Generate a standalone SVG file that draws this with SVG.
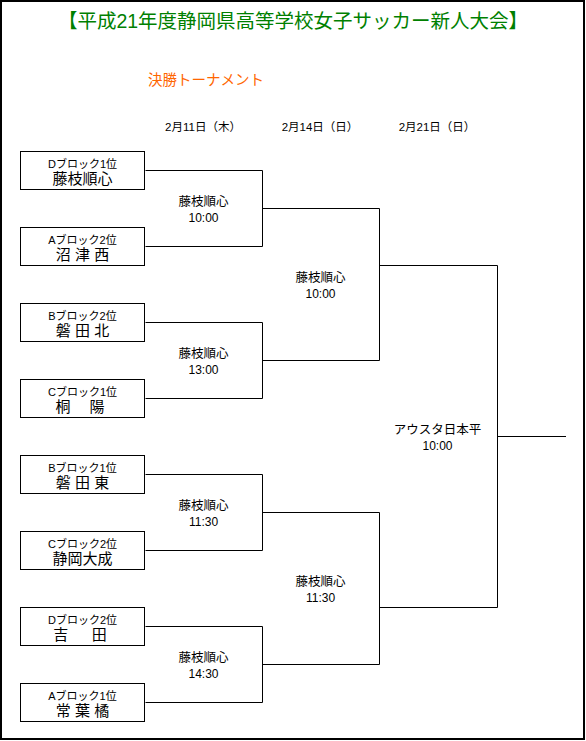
<svg xmlns="http://www.w3.org/2000/svg" width="586" height="741" viewBox="0 0 586 741">
<style>
text{font-family:"Liberation Sans","Noto Sans CJK JP",sans-serif;fill:#000;white-space:pre}
.title{font-size:19.5px;fill:#008000;text-anchor:middle}
.sub{font-size:14.5px;fill:#FF6600}
.date{font-size:11.5px;text-anchor:middle}
.lbl{font-size:11px;text-anchor:middle}
.name{font-size:15px;text-anchor:middle}
.ml{font-size:12.5px;text-anchor:middle}
.mt{font-size:12px;text-anchor:middle}
.box{fill:#fff;stroke:#000;stroke-width:1}
.ln{fill:none;stroke:#000;stroke-width:1}
</style>
<rect x="0" y="0" width="586" height="741" fill="#fff"/>
<rect x="1" y="1" width="583" height="738" fill="none" stroke="#000" stroke-width="2"/>
<text class="title" x="293" y="28">【平成21年度静岡県高等学校女子サッカー新人大会】</text>
<text class="sub" x="148" y="85">決勝トーナメント</text>
<text class="date" x="203" y="131">2月11日（木）</text>
<text class="date" x="320" y="131">2月14日（日）</text>
<text class="date" x="437" y="131">2月21日（日）</text>
<g id="connectors">
<path class="ln" d="M145.5 170.5H262.5V246.5H145.5"/>
<path class="ln" d="M145.5 322.5H262.5V398.5H145.5"/>
<path class="ln" d="M145.5 474.5H262.5V550.5H145.5"/>
<path class="ln" d="M145.5 626.5H262.5V702.5H145.5"/>
<path class="ln" d="M262.5 208.5H379.5V360.5H262.5"/>
<path class="ln" d="M262.5 512.5H379.5V664.5H262.5"/>
<path class="ln" d="M379.5 265.5H497.5V607.5H379.5"/>
<path class="ln" d="M497.5 436.5H566"/>
</g>
<g id="team1"><rect class="box" x="20.5" y="151.5" width="124" height="38"/><text class="lbl" x="82.5" y="167.5">Dブロック1位</text><text class="name" x="82.5" y="184">藤枝順心</text></g>
<g id="team2"><rect class="box" x="20.5" y="227.5" width="124" height="38"/><text class="lbl" x="82.5" y="243.5">Aブロック2位</text><text class="name" x="82.5" y="260">沼 津 西</text></g>
<g id="team3"><rect class="box" x="20.5" y="303.5" width="124" height="38"/><text class="lbl" x="82.5" y="319.5">Bブロック2位</text><text class="name" x="82.5" y="336">磐 田 北</text></g>
<g id="team4"><rect class="box" x="20.5" y="379.5" width="124" height="38"/><text class="lbl" x="82.5" y="395.5">Cブロック1位</text><text class="name" x="80" y="412">桐　 陽</text></g>
<g id="team5"><rect class="box" x="20.5" y="455.5" width="124" height="38"/><text class="lbl" x="82.5" y="471.5">Bブロック1位</text><text class="name" x="82.5" y="488">磐 田 東</text></g>
<g id="team6"><rect class="box" x="20.5" y="531.5" width="124" height="38"/><text class="lbl" x="82.5" y="547.5">Cブロック2位</text><text class="name" x="82.5" y="564">静岡大成</text></g>
<g id="team7"><rect class="box" x="20.5" y="607.5" width="124" height="38"/><text class="lbl" x="82.5" y="623.5">Dブロック2位</text><text class="name" x="80" y="640">吉　  田</text></g>
<g id="team8"><rect class="box" x="20.5" y="683.5" width="124" height="38"/><text class="lbl" x="82.5" y="699.5">Aブロック1位</text><text class="name" x="82.5" y="716">常 葉 橘</text></g>
<g id="match1"><text class="ml" x="203.5" y="206">藤枝順心</text><text class="mt" x="203.5" y="222">10:00</text></g>
<g id="match2"><text class="ml" x="203.5" y="358">藤枝順心</text><text class="mt" x="203.5" y="374">13:00</text></g>
<g id="match3"><text class="ml" x="203.5" y="510">藤枝順心</text><text class="mt" x="203.5" y="526">11:30</text></g>
<g id="match4"><text class="ml" x="203.5" y="662">藤枝順心</text><text class="mt" x="203.5" y="678">14:30</text></g>
<g id="match5"><text class="ml" x="320.5" y="282">藤枝順心</text><text class="mt" x="320.5" y="298">10:00</text></g>
<g id="match6"><text class="ml" x="320.5" y="586">藤枝順心</text><text class="mt" x="320.5" y="602">11:30</text></g>
<g id="final"><text class="ml" x="437.5" y="434">アウスタ日本平</text><text class="mt" x="437.5" y="450">10:00</text></g>
</svg>
